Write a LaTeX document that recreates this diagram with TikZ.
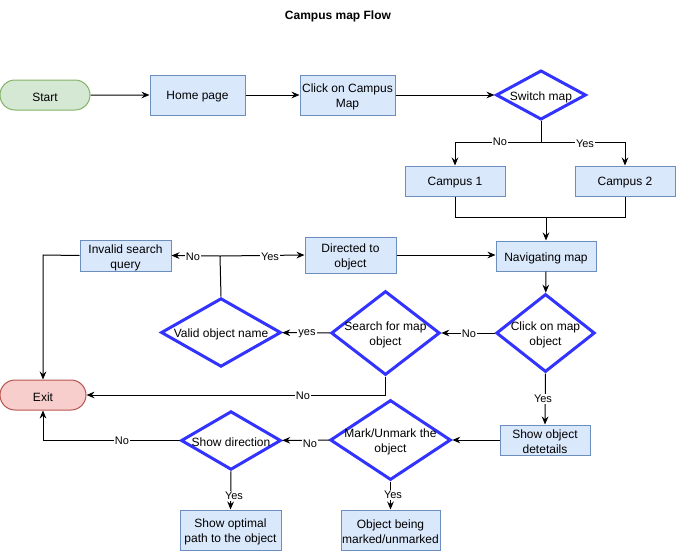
\documentclass[tikz,border=0pt]{standalone}
\usepackage{fontspec}
\setmainfont{Liberation Sans}
\usetikzlibrary{shapes.geometric,shapes.misc,arrows.meta}
\definecolor{bfill}{HTML}{DAE8FC}
\definecolor{bstroke}{HTML}{6C8EBF}
\definecolor{gfill}{HTML}{D5E8D4}
\definecolor{gstroke}{HTML}{82B366}
\definecolor{rfill}{HTML}{F8CECC}
\definecolor{rstroke}{HTML}{B85450}
\definecolor{dstroke}{HTML}{3333FF}
\begin{document}
\begin{tikzpicture}[x=0.75pt,y=-0.75pt]
\tikzset{
 base/.style={inner sep=0pt, line width=0.75pt},
 proc/.style={base, rectangle, draw=bstroke, fill=bfill},
 term/.style={base, rounded rectangle, rounded rectangle arc length=180},
 dec/.style={diamond, draw=dstroke, fill=white, line width=2.25pt, inner sep=0pt},
 txt/.style={font=\fontsize{9}{11.25}\selectfont, align=center, inner sep=0pt, yshift=-1.5pt},
 conn/.style={draw=black, line width=0.75pt, -{Stealth[length=6pt,width=5pt,inset=2pt]}},
 plain/.style={draw=black, line width=0.75pt},
 lab/.style={fill=white, font=\fontsize{8.25}{10}\selectfont, inner sep=0.75pt},
}
\useasboundingbox (0,0) rectangle (676,551);

\node[font=\bfseries\fontsize{9}{11}\selectfont] (title) at (338,16) {Campus map Flow};

% shapes
\node[term, draw=gstroke, fill=gfill, minimum width=67.5pt, minimum height=22.5pt] (start) at (45,95) {};
\node[proc, minimum width=71.25pt, minimum height=30pt] (home) at (197.5,95) {};
\node[proc, minimum width=71.25pt, minimum height=30pt] (ccm) at (347.5,95) {};
\node[dec, minimum width=67.5pt, minimum height=37pt] (sw) at (541,95) {};
\node[proc, minimum width=75pt, minimum height=22.5pt] (c1) at (455,181) {};
\node[proc, minimum width=75pt, minimum height=22.5pt] (c2) at (625,181) {};
\node[proc, minimum width=75pt, minimum height=22.5pt] (nav) at (546,256) {};
\node[proc, minimum width=68.25pt, minimum height=27pt] (dir) at (350.5,255) {};
\node[proc, minimum width=68.25pt, minimum height=23.25pt] (inv) at (125.5,255.5) {};
\node[dec, minimum width=90pt, minimum height=51.5pt] (valid) at (221,332.5) {};
\node[dec, minimum width=81.5pt, minimum height=63pt] (search) at (385.5,333) {};
\node[dec, minimum width=74pt, minimum height=58.5pt] (cmo) at (545.5,333) {};
\node[term, draw=rstroke, fill=rfill, minimum width=64.5pt, minimum height=22.5pt] (exit) at (43,395) {};
\node[proc, minimum width=67.5pt, minimum height=22.5pt] (sod) at (545,440) {};
\node[dec, minimum width=90.5pt, minimum height=60pt] (mark) at (390.5,440) {};
\node[dec, minimum width=75pt, minimum height=44pt] (sdir) at (231,440.5) {};
\node[proc, minimum width=75.75pt, minimum height=30pt] (opt) at (230.5,530) {};
\node[proc, minimum width=74.25pt, minimum height=30pt] (mkd) at (390.5,530) {};

% texts
\node[txt] (start-t) at (start) {Start};
\node[txt] (home-t) at (home) {Home page};
\node[txt] (ccm-t) at (ccm) {Click on Campus\\Map};
\node[txt] (sw-t) at (sw) {Switch map};
\node[txt] (c1-t) at (c1) {Campus 1};
\node[txt] (c2-t) at (c2) {Campus 2};
\node[txt] (nav-t) at (nav) {Navigating map};
\node[txt] (dir-t) at (dir) {Directed to\\object};
\node[txt] (inv-t) at (inv) {Invalid search\\query};
\node[txt] (valid-t) at (valid) {Valid object name};
\node[txt] (search-t) at (search) {Search for map\\object};
\node[txt] (cmo-t) at (cmo) {Click on map\\object};
\node[txt] (exit-t) at (exit) {Exit};
\node[txt] (sod-t) at (sod) {Show object\\detetails};
\node[txt] (mark-t) at (mark) {Mark/Unmark the\\object};
\node[txt] (sdir-t) at (sdir) {Show direction};
\node[txt] (opt-t) at (opt) {Show optimal\\path to the object};
\node[txt] (mkd-t) at (mkd) {Object being\\marked/unmarked};

% junction coordinates
\coordinate (swj) at (541,142);
\coordinate (mj) at (546,217);
\coordinate (vj) at (220,256);
\coordinate (ej) at (43,255);
\coordinate (sj) at (385.5,395);
\coordinate (dj) at (43,440.5);

% connectors
\draw[conn] (start) -- (home);
\draw[conn] (home) -- (ccm);
\draw[conn] (ccm) -- (sw);
\draw[conn] (sw.south) -- (swj) -| (c1.north);
\draw[conn] (swj) -| (c2.north);
\draw[plain] (c1.south) |- (mj);
\draw[plain] (c2.south) |- (mj);
\draw[conn] (mj) -- (nav.north);
\draw[conn] (nav) -- (cmo);
\draw[conn] (cmo) -- (search);
\draw[conn] (search) -- (valid);
\draw[plain] (valid.north) -- (vj);
\draw[conn] (vj) -- (inv.east);
\draw[conn] (vj) -- (dir.west);
\draw[conn] (dir.east) -- (dir.east -| nav.west);
\draw[conn] (inv.west) -- (ej) -- (exit.north);
\draw[conn] (search.south) -- (sj) -- (exit.east |- sj);
\draw[conn] (cmo.south) -- (sod.north);
\draw[conn] (sod) -- (mark);
\draw[conn] (mark) -- (sdir);
\draw[conn] (sdir.west) -- (dj) -- (exit.south);
\draw[conn] (sdir.south) -- (opt.north);
\draw[conn] (mark.south) -- (mkd.north);

% labels
\node[lab] (l1) at (500,142) {No};
\node[lab] (l2) at (585,144) {Yes};
\node[lab] (l3) at (469,334) {No};
\node[lab] (l4) at (307,334) {yes};
\node[lab] (l5) at (193,257) {No};
\node[lab] (l6) at (270,257) {Yes};
\node[lab] (l7) at (303,396) {No};
\node[lab] (l8) at (543,399) {Yes};
\node[lab] (l9) at (310,444) {No};
\node[lab] (l10) at (122,441) {No};
\node[lab] (l11) at (234,496) {Yes};
\node[lab] (l12) at (393,495) {Yes};
\end{tikzpicture}
\end{document}
